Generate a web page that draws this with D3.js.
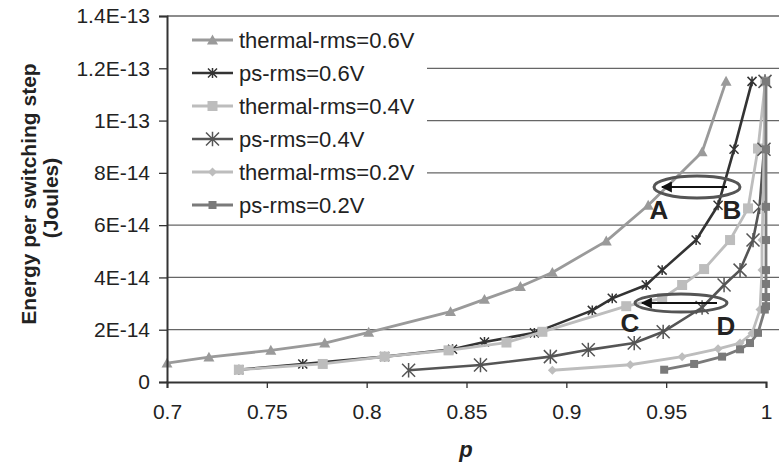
<!DOCTYPE html>
<html>
<head>
<meta charset="utf-8">
<script src="https://cdn.jsdelivr.net/npm/d3@7"></script>
<style>
  body { margin: 0; background: #fff; }
  svg text { font-family: "Liberation Sans", Arial, sans-serif; fill: #222; }
  .axis path, .axis line { stroke: #333; }
  .axis text { font-size: 21px; }
</style>
</head>
<body>
<div id="chart"></div>
<script>
// series values: p (x) and energy in units of 1E-14 J
const thermal06P = [0.700, 0.721, 0.752, 0.779, 0.801, 0.842, 0.859, 0.877, 0.893, 0.920, 0.941, 0.968, 0.980];
const thermal06E = [0.72, 0.95, 1.21, 1.49, 1.90, 2.69, 3.16, 3.65, 4.19, 5.39, 6.76, 8.80, 11.5];
const ps06P = [0.736, 0.768, 0.809, 0.843, 0.859, 0.884, 0.913, 0.923, 0.940, 0.948, 0.965, 0.976, 0.984, 0.993];
const ps06E = [0.47, 0.69, 0.97, 1.25, 1.53, 1.88, 2.74, 3.20, 3.71, 4.28, 5.43, 6.76, 8.90, 11.5];
const thermal04P = [0.736, 0.778, 0.809, 0.841, 0.870, 0.888, 0.930, 0.948, 0.958, 0.969, 0.982, 0.991, 0.996, 0.9997];
const thermal04E = [0.47, 0.69, 0.97, 1.21, 1.51, 1.92, 2.90, 3.20, 3.71, 4.32, 5.43, 6.64, 8.93, 11.5];
const ps04P = [0.821, 0.857, 0.892, 0.911, 0.934, 0.9485, 0.968, 0.979, 0.987, 0.9935, 0.9968, 0.999, 0.9995];
const ps04E = [0.45, 0.65, 0.97, 1.23, 1.49, 1.92, 2.85, 3.71, 4.28, 5.43, 6.70, 8.90, 11.5];
const thermal02P = [0.893, 0.932, 0.958, 0.976, 0.987, 0.993, 0.997, 0.998, 0.998, 0.9985, 0.999, 0.9995];
const thermal02E = [0.45, 0.66, 0.97, 1.27, 1.49, 1.86, 2.77, 4.28, 5.43, 6.70, 8.90, 11.5];
const ps02P = [0.949, 0.964, 0.978, 0.987, 0.992, 0.996, 0.9994, 1.0, 1.0, 1.0, 1.0, 1.0, 1.0, 1.0, 1.0];
const ps02E = [0.47, 0.69, 0.97, 1.25, 1.49, 1.88, 2.77, 2.90, 3.25, 3.75, 4.28, 5.43, 6.70, 8.90, 11.5];

const seriesNames = ["thermal-rms=0.6V", "ps-rms=0.6V", "thermal-rms=0.4V", "ps-rms=0.4V", "thermal-rms=0.2V", "ps-rms=0.2V"];
const xTicks = [0.7, 0.75, 0.8, 0.85, 0.9, 0.95, 1];
const xTickLabels = ["0.7", "0.75", "0.8", "0.85", "0.9", "0.95", "1"];
const yTicks = [0, 2e-14, 4e-14, 6e-14, 8e-14, 1e-13, 1.2e-13, 1.4e-13];
const yTickLabels = ["0", "2E-14", "4E-14", "6E-14", "8E-14", "1E-13", "1.2E-13", "1.4E-13"];

const width = 779, height = 463;
const plotLeft = 167, plotRight = 766, plotTop = 16, plotBottom = 382;

const svg = d3.select("#chart").append("svg")
  .attr("width", width)
  .attr("height", height);

const x = d3.scaleLinear().domain([0.7, 1]).range([plotLeft, plotRight]);
const y = d3.scaleLinear().domain([0, 1.4e-13]).range([plotBottom, plotTop]);

// gridlines
svg.append("g")
  .selectAll("line")
  .data(yTicks.slice(1))
  .enter()
  .append("line")
  .attr("x1", plotLeft).attr("x2", plotRight + 13)
  .attr("y1", d => y(d)).attr("y2", d => y(d))
  .attr("stroke", "#666")
  .attr("stroke-width", 1.3);

// star / triangle / square / diamond markers
function markerPath(kind, s) {
  const h = s / 2;
  if (kind === "triangle") return `M0,${-h}L${h},${h * 0.8}L${-h},${h * 0.8}Z`;
  if (kind === "square") return `M${-h},${-h}H${h}V${h}H${-h}Z`;
  if (kind === "diamond") return `M0,${-h}L${h},0L0,${h}L${-h},0Z`;
  // asterisk
  return `M${-h},${-h}L${h},${h}M${-h},${h}L${h},${-h}M0,${-h * 1.1}V${h * 1.1}`;
}

const series = [
  { name: seriesNames[0], p: thermal06P, e: thermal06E, color: "#9a9a9a", marker: "triangle", size: 11, lw: 2.8 },
  { name: seriesNames[1], p: ps06P, e: ps06E, color: "#333", marker: "star", size: 9, lw: 2.6 },
  { name: seriesNames[2], p: thermal04P, e: thermal04E, color: "#bdbdbd", marker: "square", size: 10, lw: 2.8 },
  { name: seriesNames[3], p: ps04P, e: ps04E, color: "#555", marker: "star", size: 13, lw: 2.6 },
  { name: seriesNames[4], p: thermal02P, e: thermal02E, color: "#bdbdbd", marker: "diamond", size: 9, lw: 2.8 },
  { name: seriesNames[5], p: ps02P, e: ps02E, color: "#7a7a7a", marker: "square", size: 8, lw: 2.8 }
];

const line = d3.line()
  .x(d => x(d[0]))
  .y(d => y(d[1] * 1e-14));

series.forEach(s => {
  const pts = s.p.map((p, i) => [p, s.e[i]]);
  const g = svg.append("g");
  g.append("path")
    .datum(pts)
    .attr("d", line)
    .attr("fill", "none")
    .attr("stroke", s.color)
    .attr("stroke-width", s.lw)
    .attr("stroke-linejoin", "round");
  g.selectAll("path.mk")
    .data(pts)
    .enter()
    .append("path")
    .attr("class", "mk")
    .attr("transform", d => `translate(${x(d[0])},${y(d[1] * 1e-14)})`)
    .attr("d", markerPath(s.marker, s.size))
    .attr("fill", s.marker === "star" ? "none" : s.color)
    .attr("stroke", s.color)
    .attr("stroke-width", s.marker === "star" ? 1.5 : 0);
});

// legend (white box over the gridlines)
const legend = svg.append("g");
legend.append("rect")
  .attr("x", plotLeft + 1).attr("y", plotTop + 2)
  .attr("width", 259).attr("height", 203)
  .attr("fill", "#fff");
series.forEach((s, i) => {
  const ly = 40 + i * 33;
  legend.append("line")
    .attr("x1", 192).attr("x2", 233)
    .attr("y1", ly).attr("y2", ly)
    .attr("stroke", s.color).attr("stroke-width", s.lw);
  legend.append("path")
    .attr("transform", `translate(212.5,${ly})`)
    .attr("d", markerPath(s.marker, s.size))
    .attr("fill", s.marker === "star" ? "none" : s.color)
    .attr("stroke", s.color)
    .attr("stroke-width", s.marker === "star" ? 1.5 : 0);
  legend.append("text")
    .attr("x", 239).attr("y", ly)
    .attr("dy", "0.35em")
    .style("font-size", "22px")
    .text(s.name);
});

// axes
svg.append("g")
  .attr("class", "axis")
  .attr("transform", `translate(${plotLeft},0)`)
  .call(d3.axisLeft(y).tickValues(yTicks).tickFormat((d, i) => yTickLabels[i]).tickSize(8).tickPadding(9))
  .call(g => g.select(".domain").attr("stroke-width", 2));

svg.append("g")
  .attr("class", "axis")
  .attr("transform", `translate(0,${plotBottom})`)
  .call(d3.axisBottom(x).tickValues(xTicks).tickFormat((d, i) => xTickLabels[i]).tickSize(6).tickPadding(16))
  .call(g => g.select(".domain").attr("stroke-width", 2));

svg.selectAll(".axis .tick line").attr("stroke-width", 1.3);

// axis titles
svg.append("text")
  .attr("transform", "translate(36,194) rotate(-90)")
  .attr("text-anchor", "middle")
  .style("font-size", "21px")
  .style("font-weight", "bold")
  .text("Energy per switching step");
svg.append("text")
  .attr("transform", "translate(58,198) rotate(-90)")
  .attr("text-anchor", "middle")
  .style("font-size", "21px")
  .style("font-weight", "bold")
  .text("(Joules)");
svg.append("text")
  .attr("x", 466).attr("y", 457)
  .attr("text-anchor", "middle")
  .style("font-size", "22px")
  .style("font-weight", "bold")
  .style("font-style", "italic")
  .text("p");

// annotations: ellipses with arrows and letters
svg.append("defs").append("marker")
  .attr("id", "head")
  .attr("viewBox", "0 0 10 10")
  .attr("refX", 9).attr("refY", 5)
  .attr("markerWidth", 6).attr("markerHeight", 5)
  .attr("markerUnits", "strokeWidth")
  .attr("orient", "auto")
  .append("path")
  .attr("d", "M0,0L10,5L0,10Z")
  .attr("fill", "#111");

const notes = [
  { cx: 697, cy: 187, rx: 43, ry: 11, x1: 727, x2: 662 },
  { cx: 681, cy: 303, rx: 46, ry: 9, x1: 717, x2: 642 }
];
notes.forEach(n => {
  svg.append("ellipse")
    .attr("cx", n.cx).attr("cy", n.cy)
    .attr("rx", n.rx).attr("ry", n.ry)
    .attr("fill", "none")
    .attr("stroke", "#555")
    .attr("stroke-width", 3);
  svg.append("line")
    .attr("x1", n.x1).attr("x2", n.x2)
    .attr("y1", n.cy).attr("y2", n.cy)
    .attr("stroke", "#111")
    .attr("stroke-width", 2.2)
    .attr("marker-end", "url(#head)");
});

const letters = [["A", 659, 210], ["B", 732, 210], ["C", 630, 323], ["D", 726, 326]];
letters.forEach(l => {
  svg.append("text")
    .attr("x", l[1]).attr("y", l[2])
    .attr("dy", "0.35em")
    .attr("text-anchor", "middle")
    .style("font-size", "26px")
    .style("font-weight", "bold")
    .text(l[0]);
});
</script>
</body>
</html>
